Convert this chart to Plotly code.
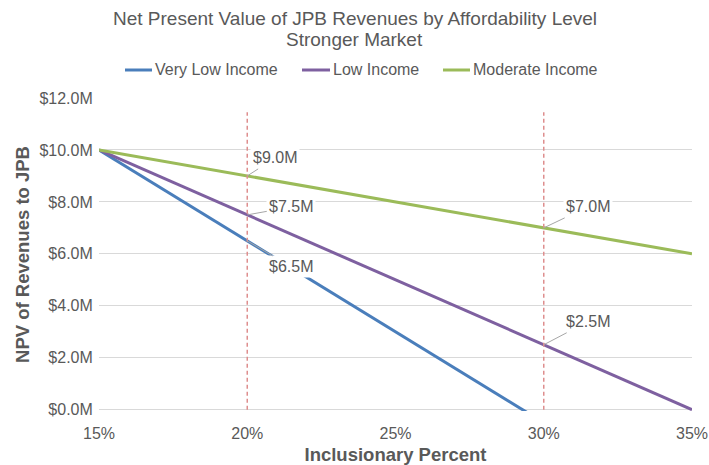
import plotly.graph_objects as go

# Inclusionary percentage (x) and NPV of revenues to JPB in $M (y)
inclusionary_pct = [15, 20, 25, 30, 35]
very_low_income = [10.0, 6.5, 3.0, -0.5, None]
low_income = [10.0, 7.5, 5.0, 2.5, 0.0]
moderate_income = [10.0, 9.0, 8.0, 7.0, 6.0]

series_names = ["Very Low Income", "Low Income", "Moderate Income"]
series_colors = ["#4A7EBB", "#7E60A0", "#9BBB59"]

# Reference percentages marked with dashed guides, and their labelled values
guide_pcts = [20, 30]
guide_top = 11.45
callouts = [
    # (x, y) of each labelled point
    (20, 9.0),
    (20, 7.5),
    (20, 6.5),
    (30, 7.0),
    (30, 2.5),
]
callout_offsets = [(28, -18), (44, -8), (44, 26), (44, -21), (44, -23)]

y_ticks = [0, 2, 4, 6, 8, 10, 12]
y_tick_labels = [f"${v:.1f}M" for v in y_ticks]
x_ticks = [15, 20, 25, 30, 35]
x_tick_labels = [f"{v}%" for v in x_ticks]

title_main = "Net Present Value of JPB Revenues by Affordability Level"
title_sub = "Stronger Market"

TEXT = "#595959"
FONT = "Liberation Sans, Arial, sans-serif"

# plot area in pixels
W, H = 709, 465
L, R, T, B = 99, 17, 98, 54
PW, PH = W - L - R, H - T - B


def px_x(px):
    return (px - L) / PW


def px_y(py):
    return (H - B - py) / PH


fig = go.Figure()
for name, ys, color in zip(series_names, [very_low_income, low_income, moderate_income], series_colors):
    fig.add_trace(go.Scatter(
        x=inclusionary_pct, y=ys, name=name, mode="lines",
        line=dict(color=color, width=3),
        connectgaps=False, showlegend=False,
    ))

for p in guide_pcts:
    fig.add_shape(type="line", xref="x", yref="y", x0=p, x1=p, y0=0, y1=guide_top,
                  line=dict(color="#DE8E8E", width=1.5, dash="4px,3px"), layer="above")

for (xv, yv), (ax, ay) in zip(callouts, callout_offsets):
    fig.add_annotation(
        x=xv, y=yv, xref="x", yref="y", text=f"${yv:.1f}M",
        showarrow=True, arrowhead=0, arrowwidth=1, arrowcolor="#A6A6A6",
        ax=ax, ay=ay, standoff=0, startstandoff=0,
        bgcolor="white", borderpad=2,
        font=dict(family=FONT, size=16, color=TEXT),
    )

# Legend row above the plot: short line swatch followed by the series name
legend_row_y = 70
legend_slots = [(125, 152), (302, 330), (443, 470)]
for name, color, (x0, x1) in zip(series_names, series_colors, legend_slots):
    fig.add_shape(type="line", xref="paper", yref="paper",
                  x0=px_x(x0), x1=px_x(x1), y0=px_y(legend_row_y), y1=px_y(legend_row_y),
                  line=dict(color=color, width=3))
    fig.add_annotation(x=px_x(x1 + 1), y=px_y(legend_row_y), xref="paper", yref="paper",
                       text=name, showarrow=False, xanchor="left", yanchor="middle",
                       font=dict(family=FONT, size=16, color=TEXT))

# Two-line chart title centred on the page, set tighter than default line spacing
for text, row_y in [(title_main, 18), (title_sub, 39)]:
    fig.add_annotation(x=px_x(W / 2), y=px_y(row_y), xref="paper", yref="paper",
                       text=text, showarrow=False, xanchor="center", yanchor="middle",
                       font=dict(family=FONT, size=19, color=TEXT))

fig.update_layout(
    width=W, height=H,
    margin=dict(l=L, r=R, t=T, b=B),
    paper_bgcolor="white", plot_bgcolor="white",
    font=dict(family=FONT, color=TEXT, size=16),
    showlegend=False,
)

fig.update_xaxes(
    range=[15, 35], tickvals=x_ticks, ticktext=x_tick_labels,
    showgrid=False, zeroline=False, showline=False, automargin=False,
    ticks="outside", ticklen=8, tickcolor="rgba(0,0,0,0)",
    tickfont=dict(family=FONT, size=16, color=TEXT),
    title=dict(text="<b>Inclusionary Percent</b>", standoff=8,
               font=dict(family=FONT, size=18.5, color=TEXT)),
)
fig.update_yaxes(
    range=[-0.05, 12], tickvals=y_ticks, ticktext=y_tick_labels,
    showgrid=True, gridcolor="#D9D9D9", gridwidth=1,
    zeroline=True, zerolinecolor="#D9D9D9", zerolinewidth=1, showline=False, automargin=False,
    ticks="outside", ticklen=2, tickcolor="rgba(0,0,0,0)",
    tickfont=dict(family=FONT, size=16, color=TEXT),
    title=dict(text="<b>NPV of Revenues to JPB</b>", standoff=4,
               font=dict(family=FONT, size=18.5, color=TEXT)),
)

fig.write_html("out.html")
